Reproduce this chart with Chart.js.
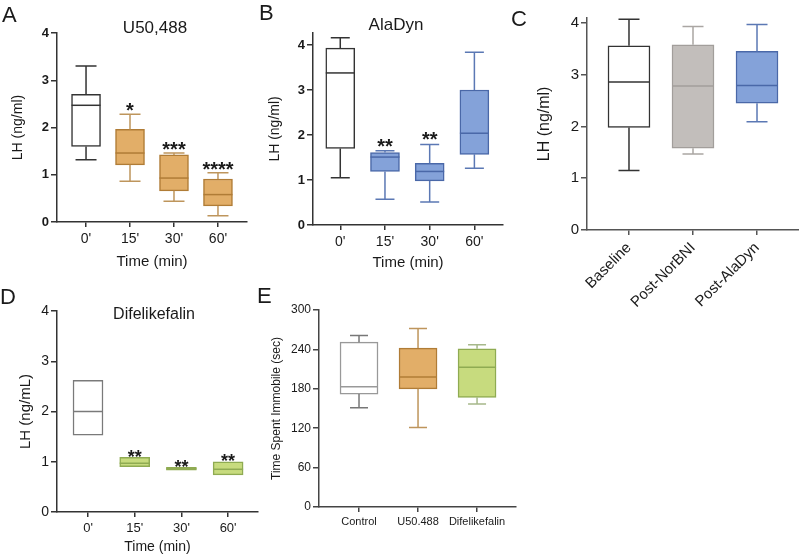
<!DOCTYPE html>
<html>
<head>
<meta charset="utf-8">
<script src="https://cdn.jsdelivr.net/npm/chart.js@4.4.1/dist/chart.umd.min.js"></script>
<style>
  body { margin: 0; background: #fff; }
  #fig { position: relative; width: 799px; height: 556px; font-family: "Liberation Sans", Arial, sans-serif; color: #1a1a1a; }
  #fig canvas { position: absolute; left: 0; top: 0; }
  .lbl { position: absolute; font-size: 22px; line-height: 1; }
  .ttl { position: absolute; font-size: 17px; line-height: 1; transform: translateX(-50%); white-space: nowrap; }
</style>
</head>
<body>
<div id="fig">
  <canvas id="cA" width="799" height="556"></canvas>
  <canvas id="cB" width="799" height="556"></canvas>
  <canvas id="cC" width="799" height="556"></canvas>
  <canvas id="cD" width="799" height="556"></canvas>
  <canvas id="cE" width="799" height="556"></canvas>
  <div class="lbl" style="left:2px;top:4px">A</div>
  <div class="lbl" style="left:259px;top:2px">B</div>
  <div class="lbl" style="left:511px;top:8px">C</div>
  <div class="lbl" style="left:0px;top:286px">D</div>
  <div class="lbl" style="left:257px;top:285px">E</div>
  <div class="ttl" style="left:155px;top:19px">U50,488</div>
  <div class="ttl" style="left:396px;top:16px">AlaDyn</div>
  <div class="ttl" style="left:154px;top:306px;font-size:16px">Difelikefalin</div>
</div>
<script>
// A: U50,488
const aTimes = ["0'", "15'", "30'", "60'"];
const aMin = [1.32, 0.86, 0.44, 0.13];
const aQ1 = [1.60, 1.21, 0.66, 0.34];
const aMed = [2.47, 1.46, 0.93, 0.58];
const aQ3 = [2.70, 1.96, 1.42, 0.91];
const aMax = [3.30, 2.28, 1.46, 1.04];
const aStars = ['', '*', '***', '****'];

// B: AlaDyn
const bTimes = ["0'", "15'", "30'", "60'"];
const bMin = [1.05, 0.57, 0.51, 1.26];
const bQ1 = [1.70, 1.19, 0.98, 1.57];
const bMed = [3.38, 1.51, 1.19, 2.04];
const bQ3 = [3.93, 1.61, 1.37, 3.00];
const bMax = [4.16, 1.65, 1.79, 3.84];
const bStars = ['', '**', '**', ''];

// C: NorBNI
const cGroups = ['Baseline', 'Post-NorBNI', 'Post-AlaDyn'];
const cMin = [1.15, 1.47, 2.09];
const cQ1 = [1.98, 1.58, 2.45];
const cMed = [2.86, 2.78, 2.79];
const cQ3 = [3.56, 3.58, 3.45];
const cMax = [4.07, 3.93, 3.97];

// D: Difelikefalin
const dTimes = ["0'", "15'", "30'", "60'"];
const dMin = [1.53, 0.90, 0.83, 0.74];
const dQ1 = [1.53, 0.90, 0.83, 0.74];
const dMed = [2.00, 0.97, 0.86, 0.85];
const dQ3 = [2.62, 1.09, 0.89, 1.00];
const dMax = [2.62, 1.09, 0.89, 1.00];
const dStars = ['', '**', '**', '**'];

// E: immobility
const eGroups = ['Control', 'U50.488', 'Difelikefalin'];
const eMin = [151, 121, 157];
const eQ1 = [172, 180, 167];
const eMed = [183, 198, 213];
const eQ3 = [251, 242, 241];
const eMax = [261, 272, 247];

const FONT = '"Liberation Sans", Arial, sans-serif';
const orange = { fill: '#E2AE68', line: '#B07C36', whisk: '#BE955C' };
const blue = { fill: '#84A2D9', line: '#4A68A8', whisk: '#5B78B4' };
const gray = { fill: '#C2BEBB', line: '#A29E9B', whisk: '#AAA6A3' };
const green = { fill: '#C7DB7E', line: '#8FAB52', whisk: '#A6B88A' };
const white = { fill: '#ffffff', line: '#333333', whisk: '#333333' };
const whiteLight = { fill: '#ffffff', line: '#7a7a7a', whisk: '#777777' };

function panel(id, p) {
  const boxExtras = {
    id: 'boxExtras',
    afterDatasetsDraw(chart) {
      const { ctx, scales: { x, y } } = chart;
      ctx.save();
      ctx.lineWidth = 1.5;
      p.med.forEach((m, i) => {
        const cx = x.getPixelForValue(i);
        const st = p.styles[i];
        const hw = p.capW / 2;
        ctx.strokeStyle = st.whisk;
        ctx.beginPath();
        if (p.max[i] > p.q3[i]) {
          ctx.moveTo(cx, y.getPixelForValue(p.q3[i]));
          ctx.lineTo(cx, y.getPixelForValue(p.max[i]));
          ctx.moveTo(cx - hw, y.getPixelForValue(p.max[i]));
          ctx.lineTo(cx + hw, y.getPixelForValue(p.max[i]));
        }
        if (p.min[i] < p.q1[i]) {
          ctx.moveTo(cx, y.getPixelForValue(p.q1[i]));
          ctx.lineTo(cx, y.getPixelForValue(p.min[i]));
          ctx.moveTo(cx - hw, y.getPixelForValue(p.min[i]));
          ctx.lineTo(cx + hw, y.getPixelForValue(p.min[i]));
        }
        ctx.stroke();
        ctx.strokeStyle = st.line;
        ctx.beginPath();
        ctx.moveTo(cx - p.boxW / 2, y.getPixelForValue(m));
        ctx.lineTo(cx + p.boxW / 2, y.getPixelForValue(m));
        ctx.stroke();
        if (p.stars && p.stars[i]) {
          ctx.fillStyle = '#1a1a1a';
          ctx.font = 'bold ' + p.starSize + 'px ' + FONT;
          ctx.textAlign = 'center';
          ctx.textBaseline = 'alphabetic';
          const top = y.getPixelForValue(p.max[i]);
          ctx.fillText(p.stars[i], cx, top - p.starGap + 0.44 * p.starSize);
        }
      });
      ctx.restore();
    }
  };

  const axisColor = p.axisColor || '#333';
  new Chart(document.getElementById(id), {
    type: 'bar',
    data: {
      datasets: [{
        data: p.cats.map((c, i) => ({ x: i, y: [p.q1[i], p.q3[i]] })),
        backgroundColor: p.styles.map(s => s.fill),
        borderColor: p.styles.map(s => s.line),
        borderWidth: 1.5,
        borderSkipped: false,
        barThickness: p.boxW
      }]
    },
    options: {
      responsive: false,
      animation: false,
      events: [],
      layout: { padding: p.pad },
      plugins: { legend: { display: false }, tooltip: { enabled: false } },
      scales: {
        x: {
          type: 'linear',
          offset: false,
          min: p.xMin, max: p.xMax,
          afterBuildTicks: s => { s.ticks = p.cats.map((c, i) => ({ value: i })); },
          afterFit: s => { s.height = p.xH; },
          ticks: {
            callback: v => p.cats[v],
            autoSkip: false,
            color: '#1a1a1a',
            font: { family: FONT, size: p.xFont },
            padding: p.xPad,
            minRotation: p.rot || 0, maxRotation: p.rot || 0
          },
          grid: { offset: false, drawOnChartArea: false, drawTicks: true, tickLength: 5, color: axisColor, lineWidth: 1.5 },
          border: { color: axisColor, width: 1.5 },
          title: p.xTitle ? { display: true, text: p.xTitle, color: '#1a1a1a', font: { family: FONT, size: p.xTitleFont }, padding: 0 } : { display: false }
        },
        y: {
          min: 0, max: p.yMax,
          afterBuildTicks: s => { s.ticks = p.yTicks.map(v => ({ value: v })); },
          afterFit: s => { s.width = p.yW; },
          ticks: {
            color: '#1a1a1a',
            font: { family: FONT, size: p.yFont, weight: p.yBold ? 'bold' : 'normal' },
            padding: p.yPad
          },
          grid: { drawOnChartArea: false, drawTicks: true, tickLength: 6, color: axisColor, lineWidth: 1.5 },
          border: { color: axisColor, width: 1.5 },
          title: { display: true, text: p.yTitle, color: '#1a1a1a', font: { family: FONT, size: p.yTitleFont }, padding: 0 }
        }
      }
    },
    plugins: [boxExtras]
  });
}

panel('cA', {
  cats: aTimes, min: aMin, q1: aQ1, med: aMed, q3: aQ3, max: aMax, stars: aStars,
  styles: [white, orange, orange, orange],
  boxW: 29, capW: 21, starSize: 20, starGap: 6,
  xMin: -0.66, xMax: 3.66, yMax: 4, yTicks: [0, 1, 2, 3, 4],
  pad: { left: 9.6, right: 552, top: 33, bottom: 285 },
  yW: 47.4, xH: 49, xFont: 14, xPad: 4, yFont: 13, yBold: true, yPad: 2,
  xTitle: 'Time (min)', xTitleFont: 15, yTitle: 'LH (ng/ml)', yTitleFont: 14
});

panel('cB', {
  cats: bTimes, min: bMin, q1: bQ1, med: bMed, q3: bQ3, max: bMax, stars: bStars,
  styles: [white, blue, blue, blue],
  boxW: 29, capW: 19, starSize: 20, starGap: 7,
  xMin: -0.61, xMax: 3.64, yMax: 4.27, yTicks: [0, 1, 2, 3, 4],
  pad: { left: 266.6, right: 296, top: 32.9, bottom: 284 },
  yW: 46.4, xH: 47, xFont: 14, xPad: 4, yFont: 13, yBold: true, yPad: 2,
  xTitle: 'Time (min)', xTitleFont: 15, yTitle: 'LH (ng/ml)', yTitleFont: 14
});

panel('cC', {
  cats: cGroups, min: cMin, q1: cQ1, med: cMed, q3: cQ3, max: cMax,
  styles: [white, gray, blue],
  boxW: 42, capW: 21, axisColor: '#555',
  xMin: -0.656, xMax: 2.656, yMax: 4.1, yTicks: [0, 1, 2, 3, 4],
  pad: { left: 535.4, right: 0, top: 17.8, bottom: 226 },
  yW: 51.6, xH: 100, xFont: 15, xPad: 4, rot: 45, yFont: 15, yBold: false, yPad: 2,
  yTitle: 'LH (ng/ml)', yTitleFont: 16
});

panel('cD', {
  cats: dTimes, min: dMin, q1: dQ1, med: dMed, q3: dQ3, max: dMax, stars: dStars,
  styles: [whiteLight, green, green, green],
  boxW: 30, capW: 18, starSize: 18, starGap: 2.5,
  xMin: -0.664, xMax: 3.64, yMax: 4, yTicks: [0, 1, 2, 3, 4],
  pad: { left: 17, right: 541, top: 311, bottom: 0 },
  yW: 40, xH: 44, xFont: 13, xPad: 4, yFont: 14, yBold: false, yPad: 2,
  xTitle: 'Time (min)', xTitleFont: 14, yTitle: 'LH (ng/mL)', yTitleFont: 15
});

panel('cE', {
  cats: eGroups, min: eMin, q1: eQ1, med: eMed, q3: eQ3, max: eMax,
  styles: [{ fill: '#ffffff', line: '#999999', whisk: '#777777' }, orange, green],
  boxW: 38, capW: 18, axisColor: '#444',
  xMin: -0.678, xMax: 2.66, yMax: 300, yTicks: [0, 60, 120, 180, 240, 300],
  pad: { left: 269.3, right: 283, top: 310, bottom: 19 },
  yW: 49.7, xH: 30, xFont: 11, xPad: 3, yFont: 12, yBold: false, yPad: 2,
  yTitle: 'Time Spent Immobile (sec)', yTitleFont: 12
});
</script>
</body>
</html>
